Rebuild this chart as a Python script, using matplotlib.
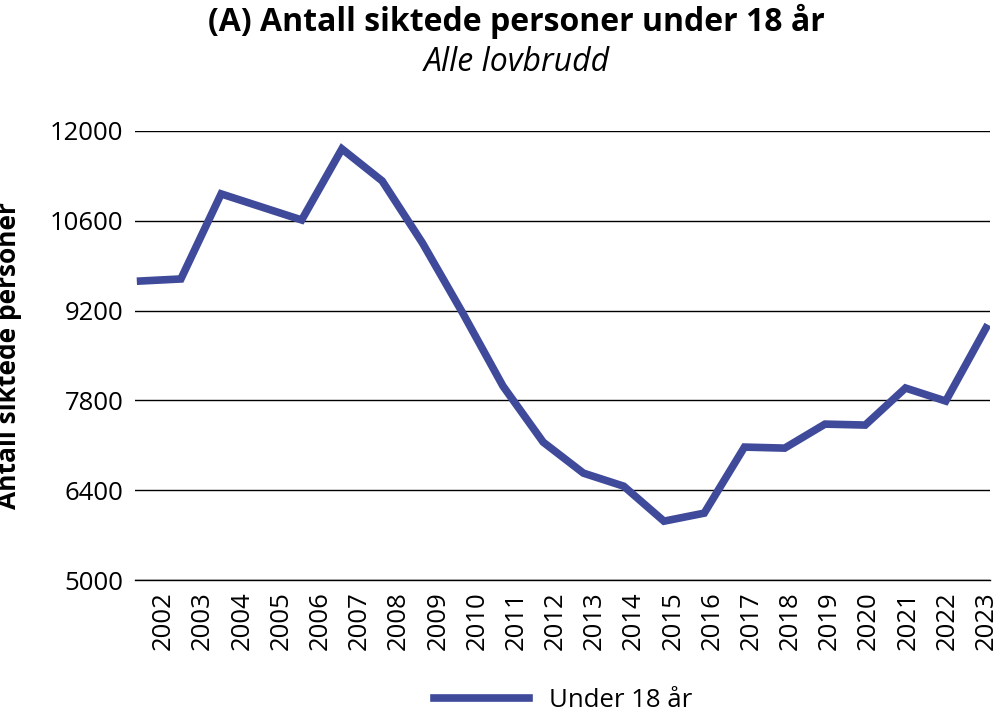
import matplotlib
matplotlib.use("Agg")
import matplotlib.pyplot as plt

years = [str(y) for y in range(2002, 2024)]
values = [9661, 9693, 11018, 10815, 10612, 11719, 11220, 10254, 9163, 8025, 7151,
          6668, 6465, 5920, 6045, 7074, 7058, 7432, 7417, 7994, 7791, 8929]
yticks = [5000, 6400, 7800, 9200, 10600, 12000]

plt.rcParams["font.family"] = "Open Sans"
fig = plt.figure(figsize=(9.97, 7.19), dpi=100)
ax = fig.add_axes([0.135, 0.193, 0.858, 0.625])
x = list(range(len(years)))
ax.plot(x, values, color="#3f4b9a", lw=5.5, solid_joinstyle="miter", label="Under 18 år")
ax.set_xlim(-0.15, 21.1)
ax.set_ylim(5000, 12000)
ax.set_yticks(yticks)
ax.set_yticklabels([str(v) for v in yticks], fontsize=18.5)
ax.set_xticks([0.57 + i * 0.973 for i in x])
ax.set_xticklabels(years, rotation=90, fontsize=18.5)
ax.grid(axis="y", color="black", lw=1)
ax.tick_params(length=0, pad=8)
for s in ["top", "right", "left"]:
    ax.spines[s].set_visible(False)
ax.spines["bottom"].set_linewidth(1)
ax.set_ylabel("Antall siktede personer", fontsize=19, fontweight="bold", labelpad=20)
fig.text(0.518, 0.97, "(A) Antall siktede personer under 18 år", ha="center", va="center",
         fontsize=23, fontweight="bold")
fig.text(0.518, 0.913, "Alle lovbrudd", ha="center", va="center", fontsize=23, style="italic")
fig.legend(loc="center", bbox_to_anchor=(0.565, 0.026), frameon=False, fontsize=18.5,
           handlelength=3.7)
fig.savefig("out.png", dpi=100)
